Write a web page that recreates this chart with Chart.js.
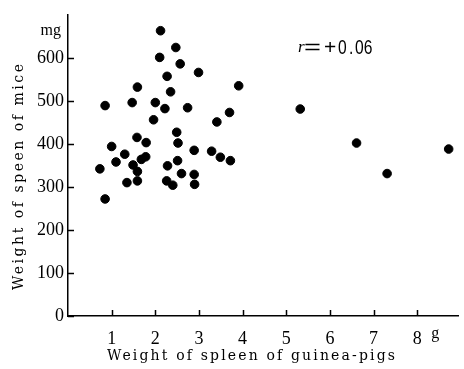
<!DOCTYPE html>
<html>
<head>
<meta charset="utf-8">
<script src="https://cdn.jsdelivr.net/npm/chart.js@4.4.1/dist/chart.umd.min.js"></script>
<style>
  html, body { margin: 0; padding: 0; background: #fff; }
  #wrap { width: 464px; height: 369px; }
</style>
</head>
<body>
<div id="wrap"><canvas id="scatter"></canvas></div>
<script>
// guinea-pig spleen weight (g) vs mouse spleen weight (mg)
var spleenGuineaPig = [
    2.12, 2.47, 2.10, 2.57, 2.99, 2.27, 1.59, 3.91, 2.35, 0.85,
    1.47, 2.00, 2.22, 2.74, 3.70, 3.41, 1.96, 2.49, 1.58, 1.79,
    2.52, 1.00, 1.30, 2.89, 3.29, 3.49, 3.72, 1.78, 1.68, 2.51,
    1.10, 1.49, 2.28, 0.73, 1.59, 2.60, 2.89, 1.35, 1.59, 2.26,
    2.40, 2.90, 0.85, 5.32, 6.61, 7.31, 8.72
];
var spleenMice = [
    663, 624, 601, 586, 566, 557, 532, 535, 521, 489,
    496, 496, 482, 484, 473, 451, 456, 427, 415, 403,
    402, 394, 376, 385, 383, 369, 361, 370, 364, 361,
    358, 351, 349, 342, 336, 331, 329, 310, 314, 314,
    304, 306, 272, 481, 402, 331, 388
];
var xTicks = [1, 2, 3, 4, 5, 6, 7, 8];
var yTicks = [0, 100, 200, 300, 400, 500, 600];

var points = [];
for (var i = 0; i < spleenGuineaPig.length; i++) {
    points.push({ x: spleenGuineaPig[i], y: spleenMice[i] });
}

var serif = '"Liberation Serif", "DejaVu Serif", serif';
var wideSerif = '"DejaVu Serif", "Liberation Serif", serif';
var sans = '"Liberation Sans", Arial, sans-serif';

// text spread out to a given width
function spaced(ctx, text, x, y, width) {
    ctx.letterSpacing = '0px';
    var w = ctx.measureText(text).width;
    ctx.letterSpacing = ((width - w) / (text.length - 1)) + 'px';
    ctx.fillText(text, x, y);
    ctx.letterSpacing = '0px';
}

// squeezed or stretched text
function scaledText(ctx, text, x, y, sx) {
    ctx.save();
    ctx.translate(x, y);
    ctx.scale(sx, 1);
    ctx.fillText(text, 0, 0);
    ctx.restore();
}

// ticks point into the plot, plus the loose labels
var extras = {
    id: 'extras',
    afterDraw: function (chart) {
        var ctx = chart.ctx;
        var xs = chart.scales.x, ys = chart.scales.y;
        var area = chart.chartArea;
        ctx.save();
        ctx.strokeStyle = '#000';
        ctx.lineWidth = 1.5;
        ctx.beginPath();
        xTicks.forEach(function (t) {
            var px = Math.round(xs.getPixelForValue(t)) + 0.5;
            ctx.moveTo(px, area.bottom);
            ctx.lineTo(px, area.bottom - 6);
        });
        yTicks.forEach(function (t) {
            var py = Math.round(ys.getPixelForValue(t)) + 0.5;
            ctx.moveTo(area.left, py);
            ctx.lineTo(area.left + 6, py);
        });
        ctx.stroke();

        ctx.fillStyle = '#000';
        ctx.textBaseline = 'middle';

        // units
        ctx.font = '16px ' + serif;
        ctx.textAlign = 'right';
        ctx.fillText('mg', area.left - 7, 31);
        ctx.textAlign = 'left';
        ctx.fillText('g', xs.getPixelForValue(8) + 14, 334);

        // correlation
        ctx.font = 'italic 17px ' + serif;
        ctx.fillText('r', 298, 48);
        ctx.font = '20px ' + sans;
        scaledText(ctx, '=', 304, 48, 1.45);
        scaledText(ctx, '+', 324, 48, 1.05);
        scaledText(ctx, '0', 338, 48, 0.78);
        scaledText(ctx, '.', 349, 48, 0.78);
        scaledText(ctx, '06', 355, 48, 0.78);

        // axis titles, letter-spaced like the print
        ctx.font = '14px ' + wideSerif;
        spaced(ctx, 'Weight of spleen of guinea-pigs', 107, 356, 288);
        ctx.translate(19, 290);
        ctx.rotate(-Math.PI / 2);
        spaced(ctx, 'Weight of speen of mice', 0, 0, 226);
        ctx.restore();
    }
};

new Chart(document.getElementById('scatter'), {
    type: 'scatter',
    data: {
        datasets: [{
            data: points,
            backgroundColor: '#000',
            borderColor: '#000',
            pointRadius: 4.3,
            pointHoverRadius: 4.3
        }]
    },
    options: {
        responsive: true,
        maintainAspectRatio: false,
        animation: false,
        layout: { padding: { top: 6, right: 0, left: 0, bottom: 0 } },
        plugins: {
            legend: { display: false },
            tooltip: { enabled: false }
        },
        scales: {
            x: {
                type: 'linear',
                min: 0,
                max: 8.95,
                afterFit: function (s) { s.height = 53; },
                afterBuildTicks: function (s) {
                    s.ticks = xTicks.map(function (v) { return { value: v }; });
                },
                grid: { display: false, drawTicks: false },
                border: { display: true, color: '#000', width: 1.5 },
                ticks: {
                    color: '#000',
                    padding: 12,
                    maxRotation: 0,
                    font: { family: serif, size: 18 }
                }
            },
            y: {
                type: 'linear',
                min: 0,
                max: 700,
                afterFit: function (s) { s.width = 68; },
                afterBuildTicks: function (s) {
                    s.ticks = yTicks.map(function (v) { return { value: v }; });
                },
                grid: { display: false, drawTicks: false },
                border: { display: true, color: '#000', width: 1.5 },
                ticks: {
                    color: '#000',
                    padding: 4,
                    font: { family: serif, size: 18 }
                }
            }
        }
    },
    plugins: [extras]
});
</script>
</body>
</html>
